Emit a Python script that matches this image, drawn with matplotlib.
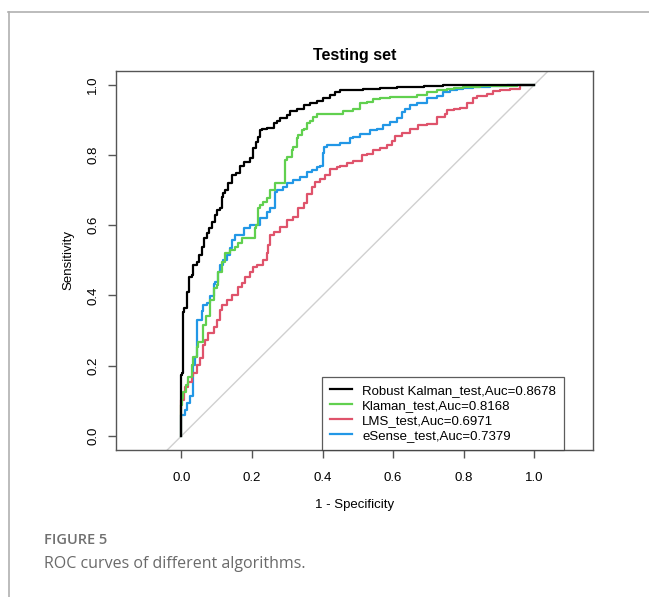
import matplotlib
matplotlib.use("Agg")
import matplotlib.pyplot as plt
from matplotlib.lines import Line2D

plt.rcParams['font.family'] = ['Liberation Sans', 'DejaVu Sans']

# ROC curves (1 - specificity, sensitivity)
fpr_robust = [0, 0, 0.001, 0.004, 0.004, 0.008, 0.015, 0.023, 0.029, 0.034, 0.044, 0.051,
              0.058, 0.064, 0.072, 0.079, 0.086, 0.095, 0.102, 0.110, 0.114, 0.119, 0.124,
              0.133, 0.143, 0.155, 0.166, 0.176, 0.183, 0.195, 0.204, 0.212, 0.218, 0.223,
              0.228, 0.242, 0.261, 0.270, 0.280, 0.299, 0.308, 0.327, 0.346, 0.365, 0.384,
              0.402, 0.421, 0.435, 0.450, 0.478, 0.515, 0.563, 0.610, 0.686, 0.742, 0.799, 1.0]
sens_robust = [0, 0.091, 0.174, 0.180, 0.330, 0.353, 0.364, 0.410, 0.452, 0.458, 0.486, 0.495,
               0.515, 0.537, 0.563, 0.577, 0.591, 0.609, 0.628, 0.643, 0.648, 0.680, 0.691,
               0.700, 0.719, 0.742, 0.750, 0.770, 0.779, 0.779, 0.790, 0.819, 0.836, 0.850,
               0.870, 0.875, 0.878, 0.890, 0.898, 0.904, 0.915, 0.924, 0.932, 0.941, 0.947,
               0.955, 0.961, 0.971, 0.978, 0.984, 0.986, 0.988, 0.991, 0.993, 0.996, 0.998, 1.0]

fpr_klaman = [0, 0.001, 0.004, 0.013, 0.020, 0.029, 0.034, 0.044, 0.048, 0.062, 0.070, 0.081,
              0.091, 0.100, 0.105, 0.114, 0.124, 0.138, 0.152, 0.161, 0.171, 0.209, 0.212,
              0.218, 0.223, 0.232, 0.242, 0.251, 0.265, 0.294, 0.299, 0.313, 0.317, 0.327,
              0.331, 0.341, 0.346, 0.355, 0.365, 0.374, 0.384, 0.398, 0.459, 0.487, 0.506,
              0.525, 0.544, 0.563, 0.591, 0.629, 0.667, 0.695, 0.724, 0.752, 0.771, 0.799,
              0.846, 0.893, 0.950, 1.0]
sens_klaman = [0, 0.089, 0.108, 0.126, 0.146, 0.168, 0.202, 0.225, 0.253, 0.268, 0.316, 0.341,
               0.387, 0.421, 0.430, 0.466, 0.495, 0.521, 0.529, 0.538, 0.549, 0.563, 0.591,
               0.600, 0.648, 0.657, 0.665, 0.677, 0.699, 0.719, 0.785, 0.793, 0.813, 0.822,
               0.847, 0.856, 0.870, 0.875, 0.892, 0.898, 0.907, 0.918, 0.918, 0.924, 0.932,
               0.947, 0.952, 0.958, 0.962, 0.964, 0.966, 0.971, 0.979, 0.984, 0.988, 0.991,
               0.993, 0.995, 0.996, 1.0]

fpr_lms = [0, 0, 0.008, 0.010, 0.020, 0.029, 0.034, 0.044, 0.053, 0.062, 0.067, 0.076, 0.091,
           0.100, 0.110, 0.114, 0.129, 0.143, 0.161, 0.171, 0.180, 0.195, 0.204, 0.214, 0.232,
           0.242, 0.246, 0.251, 0.261, 0.280, 0.299, 0.317, 0.331, 0.346, 0.355, 0.369, 0.379,
           0.393, 0.407, 0.421, 0.440, 0.450, 0.469, 0.487, 0.511, 0.525, 0.544, 0.563, 0.582,
           0.596, 0.605, 0.624, 0.648, 0.671, 0.695, 0.724, 0.747, 0.752, 0.771, 0.790, 0.808,
           0.827, 0.837, 0.865, 0.884, 0.903, 0.931, 0.959, 1.0]
sens_lms = [0, 0.083, 0.103, 0.126, 0.140, 0.154, 0.171, 0.180, 0.202, 0.222, 0.259, 0.273,
            0.293, 0.310, 0.330, 0.359, 0.373, 0.387, 0.401, 0.424, 0.435, 0.452, 0.466, 0.481,
            0.486, 0.501, 0.520, 0.543, 0.572, 0.580, 0.594, 0.614, 0.623, 0.648, 0.663, 0.688,
            0.708, 0.722, 0.733, 0.742, 0.759, 0.765, 0.770, 0.776, 0.784, 0.799, 0.804, 0.813,
            0.821, 0.827, 0.841, 0.855, 0.864, 0.875, 0.884, 0.889, 0.907, 0.918, 0.927, 0.932,
            0.935, 0.949, 0.963, 0.969, 0.975, 0.981, 0.986, 0.989, 1.0]

fpr_esense = [0, 0, 0.010, 0.017, 0.025, 0.032, 0.034, 0.039, 0.044, 0.045, 0.058, 0.062,
              0.072, 0.081, 0.091, 0.095, 0.105, 0.110, 0.119, 0.129, 0.138, 0.143, 0.152,
              0.176, 0.195, 0.223, 0.242, 0.251, 0.265, 0.270, 0.289, 0.299, 0.317, 0.336,
              0.355, 0.369, 0.384, 0.393, 0.402, 0.404, 0.412, 0.431, 0.450, 0.478, 0.487,
              0.506, 0.535, 0.554, 0.572, 0.591, 0.610, 0.624, 0.634, 0.648, 0.667, 0.695,
              0.724, 0.742, 0.761, 0.780, 0.799, 0.827, 0.874, 0.922, 1.0]
sens_esense = [0, 0.052, 0.060, 0.074, 0.094, 0.114, 0.168, 0.202, 0.225, 0.324, 0.330, 0.356,
               0.373, 0.378, 0.398, 0.432, 0.438, 0.466, 0.486, 0.501, 0.515, 0.535, 0.557,
               0.572, 0.591, 0.600, 0.620, 0.637, 0.648, 0.694, 0.699, 0.708, 0.719, 0.728,
               0.736, 0.751, 0.756, 0.765, 0.770, 0.807, 0.822, 0.827, 0.827, 0.833, 0.847,
               0.850, 0.861, 0.870, 0.875, 0.884, 0.893, 0.904, 0.921, 0.932, 0.941, 0.949,
               0.961, 0.969, 0.978, 0.984, 0.989, 0.991, 0.994, 0.997, 1.0]

labels = ['Robust Kalman_test,Auc=0.8678', 'Klaman_test,Auc=0.8168',
          'LMS_test,Auc=0.6971', 'eSense_test,Auc=0.7379']
colors = ['#000000', '#61D04F', '#DF536B', '#2297E6']
curves = [(fpr_robust, sens_robust), (fpr_klaman, sens_klaman),
          (fpr_lms, sens_lms), (fpr_esense, sens_esense)]
ticks = [0.0, 0.2, 0.4, 0.6, 0.8, 1.0]

fig = plt.figure(figsize=(6.49, 5.97), dpi=100)
ax = fig.add_axes([0.1783, 0.2462, 0.7354, 0.6354])

ax.axline((0, 0), (1, 1), color='#d0d0d0', lw=1.0, zorder=1)
# draw in reverse so the black curve ends up on top
for (x, y), c in list(zip(curves, colors))[::-1]:
    ax.plot(x, y, color=c, lw=1.6, drawstyle='steps-pre', zorder=2)

ax.set_xlim(-0.186, 1.166)
ax.set_ylim(-0.04, 1.04)
ax.set_xticks(ticks)
ax.set_yticks(ticks)
ax.set_xticklabels(['%.1f' % t for t in ticks], fontsize=9.5)
ax.set_yticklabels(['%.1f' % t for t in ticks], fontsize=9.5, rotation=90, va='center')
ax.tick_params(axis='x', direction='out', length=6, width=1, color='#555555', pad=9.5)
ax.tick_params(axis='y', direction='out', length=6, width=1, color='#555555', pad=6)
for s in ax.spines.values():
    s.set_color('#555555')
    s.set_linewidth(1)

ax.set_xlabel('1 - Specificity', fontsize=9.5, labelpad=11)
ax.set_ylabel('Sensitivity', fontsize=9.5, labelpad=9)
ax.set_title('Testing set', fontsize=11.5, fontweight='bold', pad=8)

handles = [Line2D([], [], color=c, lw=1.6) for c in colors]
leg = ax.legend(handles, labels, loc='lower left', bbox_to_anchor=(0.432, 0.0),
                fontsize=9.5, frameon=True, fancybox=False, borderaxespad=0,
                labelspacing=0.22, handlelength=1.7, handletextpad=0.75, borderpad=0.6)
leg.get_frame().set_edgecolor('#333333')
leg.get_frame().set_linewidth(0.9)

# journal page frame and caption
fig.add_artist(Line2D([0.0123, 1.0], [0.980, 0.980], color='#b0b0b0', lw=1.2))
fig.add_artist(Line2D([0.0146, 0.0146], [0.980, 0.0], color='#b0b0b0', lw=1.2))
fig.text(0.068, 0.095, 'FIGURE 5', fontsize=10.5, fontweight='semibold',
         color='#707070', family=['Open Sans', 'DejaVu Sans'], va='center')
fig.text(0.068, 0.056, 'ROC curves of different algorithms.', fontsize=11.5,
         color='#6a6a6a', family=['Open Sans', 'DejaVu Sans'], va='center')

fig.savefig('out.png', dpi=100)
